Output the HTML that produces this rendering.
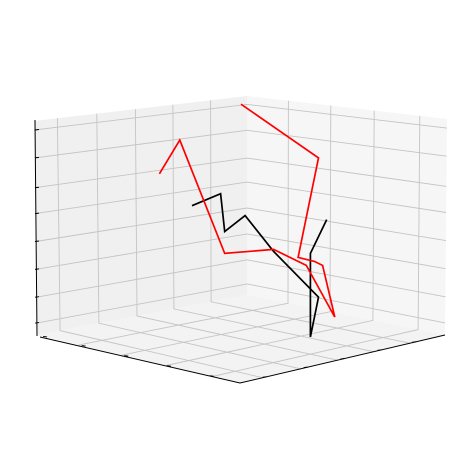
<!DOCTYPE html>
<html><head><meta charset="utf-8"><style>
html,body{margin:0;padding:0;background:#fff;}
svg{display:block;font-family:"Liberation Sans",sans-serif;}
</style></head><body>
<svg id="chart" width="469" height="470" viewBox="0 0 469 470" xmlns="http://www.w3.org/2000/svg">
<g id="panes"></g>
<g id="grid"></g>
<g id="axes"></g>
<g id="series"></g>
</svg>
<script>
// data (normalized 3D coordinates)
const redX = [0.70,0.65,0.54,0.42,0.34,0.27,0.30,0.32,0.36,0.31,0.50];
const redY = [0.30,0.35,0.46,0.58,0.66,0.73,0.70,0.68,0.64,0.69,0.50];
const redZ = [0.81,0.98,0.41,0.43,0.35,0.09,0.35,0.37,0.39,0.89,1.16];
const blackX = [0.62,0.55,0.54,0.49,0.42,0.31,0.33,0.33,0.29];
const blackY = [0.38,0.45,0.46,0.51,0.58,0.69,0.67,0.67,0.71];
const blackZ = [0.65,0.71,0.52,0.60,0.42,0.19,-0.01,0.41,0.58];
const zTicks = [1.03,0.89,0.74,0.61,0.47,0.33,0.19,0.06];

const NS="http://www.w3.org/2000/svg";
function proj(x,y,z){return [240-203*x+205*y, 383-48*(x+y)-199*z];}
function el(tag,attrs,parent){const e=document.createElementNS(NS,tag);for(const k in attrs)e.setAttribute(k,attrs[k]);document.getElementById(parent).appendChild(e);return e;}
function pts(a){return a.map(p=>p[0].toFixed(1)+","+p[1].toFixed(1)).join(" ");}
const L=[37,335],B=[247,295],R=[445,335],F=[240,383],TL=[34,121],TB=[247,96],TR=[447,119];
function lerp(a,b,t){return [a[0]+(b[0]-a[0])*t,a[1]+(b[1]-a[1])*t];}

let p=el('polygon',{points:pts([L,B,TB,TL]),fill:'#f0f0f0'},'panes');


p=el('polygon',{points:pts([B,R,TR,TB]),fill:'#f6f6f6'},'panes');


p=el('polygon',{points:pts([L,B,R,F]),fill:'#f3f3f3'},'panes');



const gs={stroke:'#c4c4c4','stroke-width':0.9,fill:'none'};
[0.11,0.295,0.476,0.652,0.829].forEach(t=>{
  const a=lerp(L,B,t),b=lerp(TL,TB,t),c=lerp(F,R,t);
  let g=el('polyline',Object.assign({points:pts([b,a,c])},gs),'grid');
  
  
});
[0.207,0.419,0.636,0.864].forEach(s=>{
  const a=lerp(B,R,s),b=lerp(TB,TR,s),c=lerp(L,F,s);
  let g=el('polyline',Object.assign({points:pts([b,a,c])},gs),'grid');
  
  
});
zTicks.forEach(z=>{
  const f=1-((335-199*z)-121)/214;
  const a=lerp(L,TL,f),b=lerp(B,TB,f),c=lerp(R,TR,f);
  let g=el('polyline',Object.assign({points:pts([a,b,c])},gs),'grid');
  
  
  let tk=el('line',{x1:35,y1:a[1],x2:39,y2:a[1]-0.5,stroke:'#000','stroke-width':1},'axes');
  
  
});
let ax=el('line',{x1:35,y1:120,x2:37,y2:336,stroke:'#000','stroke-width':1},'axes');


ax=el('line',{x1:L[0]+3,y1:L[1]+2,x2:F[0],y2:F[1],stroke:'#000','stroke-width':1},'axes');


ax=el('line',{x1:F[0],y1:F[1],x2:R[0],y2:R[1],stroke:'#000','stroke-width':1},'axes');


[0.03,0.22,0.43,0.64,0.85].forEach(t=>{const a=lerp(L,F,t);
  let tk=el('line',{x1:a[0],y1:a[1],x2:a[0]+4,y2:a[1]+0.5,stroke:'#000','stroke-width':1},'axes');
  
  });
[0.13,0.33,0.51,0.69,0.86].forEach(t=>{const a=lerp(F,R,t);
  let tk=el('line',{x1:a[0],y1:a[1],x2:a[0]-4,y2:a[1]+0.5,stroke:'#000','stroke-width':1},'axes');
  
  });

function series(X,Y,Z,color,name){
  const ps=X.map((x,i)=>proj(x,Y[i],Z[i]));
  const s=el('polyline',{points:pts(ps),fill:'none',stroke:color,'stroke-width':1.7,'stroke-linejoin':'miter'},'series');
  
  
}
series(blackX,blackY,blackZ,'#000','black-line');
series(redX,redY,redZ,'#ff0000','red-line');
</script>
</body></html>
